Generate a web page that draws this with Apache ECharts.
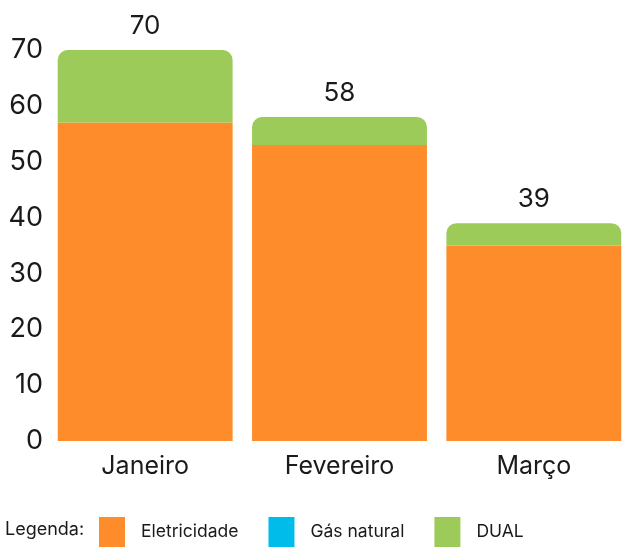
<!DOCTYPE html>
<html><head><meta charset="utf-8">
<script src="https://cdn.jsdelivr.net/npm/echarts@6/dist/echarts.min.js"></script>
<style>html,body{margin:0;padding:0;background:#fff}#c{width:635px;height:547px}</style>
</head><body><div id="c"></div>
<script>
const categories = ['Janeiro', 'Fevereiro', 'Março'];
const eletricidade = [57, 53, 35];
const gasNatural = [0, 0, 0];
const dual = [13, 5, 4];
const yTicks = [0, 10, 20, 30, 40, 50, 60, 70];

const totals = categories.map((_, i) => eletricidade[i] + gasNatural[i] + dual[i]);
const FONT = 'Inter, Lato, sans-serif';
const chart = echarts.init(document.getElementById('c'), null, {renderer: 'canvas'});
chart.setOption({
  animation: false,
  backgroundColor: '#fff',
  grid: {left: 48, right: 4, top: 50, bottom: 106, containLabel: false},
  xAxis: {
    type: 'category', data: categories,
    axisLine: {show: false}, axisTick: {show: false},
    axisLabel: {fontSize: 25, color: '#1a1a1a', fontFamily: FONT, margin: 13}
  },
  yAxis: {
    type: 'value', min: yTicks[0], max: yTicks[yTicks.length - 1], interval: 10,
    splitLine: {show: false}, axisLine: {show: false}, axisTick: {show: false},
    axisLabel: {fontSize: 27, color: '#1a1a1a', fontFamily: FONT, margin: 5}
  },
  legend: {
    left: 99, bottom: 0, padding: 0, itemWidth: 26, itemHeight: 30, itemGap: 30,
    icon: 'rect',
    textStyle: {fontSize: 17.5, color: '#1a1a1a', fontFamily: FONT, padding: [0, 0, 0, 11]},
    data: ['Eletricidade', 'Gás natural', 'DUAL']
  },
  graphic: [{
    type: 'text', left: 5, top: 521,
    style: {text: 'Legenda:', fontSize: 18, fill: '#1a1a1a', fontFamily: FONT}
  }],
  series: [
    {name: 'Eletricidade', type: 'bar', stack: 't', data: eletricidade, barCategoryGap: '10%',
     itemStyle: {color: '#FF8C2A'}},
    {name: 'Gás natural', type: 'bar', stack: 't', data: gasNatural,
     itemStyle: {color: '#00BCEB'}},
    {name: 'DUAL', type: 'bar', stack: 't', data: dual,
     itemStyle: {color: '#9CCB5A', borderRadius: [10, 10, 0, 0]},
     label: {show: true, position: 'top', distance: 11, fontSize: 26, color: '#1a1a1a', fontFamily: FONT,
       formatter: p => String(totals[p.dataIndex])}}
  ]
});
</script></body></html>
